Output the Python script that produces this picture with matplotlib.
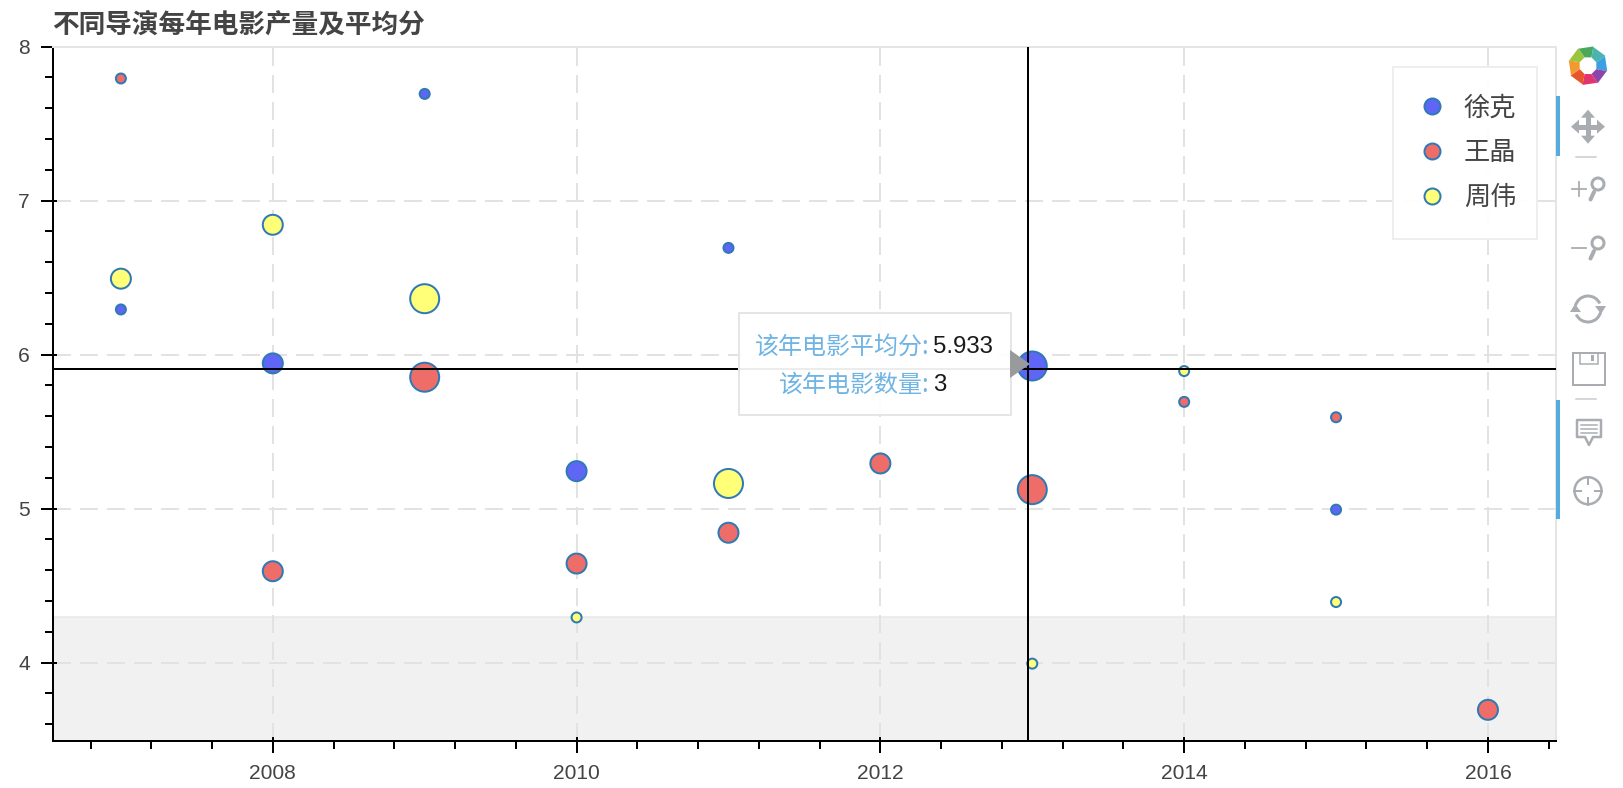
import numpy as np
import matplotlib
matplotlib.use("Agg")
from matplotlib import pyplot as plt
from matplotlib.lines import Line2D
from matplotlib.markers import TICKUP, TICKRIGHT
from matplotlib.patches import Circle, Polygon, Rectangle, Arc
from matplotlib.ticker import MultipleLocator
from matplotlib.transforms import ScaledTranslation

CJK = ["Noto Sans CJK SC", "DejaVu Sans"]
plt.rcParams["font.family"] = ["Liberation Sans", "Noto Sans CJK SC", "DejaVu Sans"]

W, H = 1624, 788

title = "不同导演每年电影产量及平均分"
names = ["徐克", "王晶", "周伟"]

xu_years = [2007, 2008, 2009, 2010, 2011, 2013, 2015]
xu_scores = [6.3, 5.95, 7.7, 5.25, 6.7, 5.933, 5.0]
xu_counts = [1, 2, 1, 2, 1, 3, 1]

wang_years = [2007, 2008, 2009, 2010, 2011, 2012, 2013, 2014, 2015, 2016]
wang_scores = [7.8, 4.6, 5.86, 4.65, 4.85, 5.3, 5.13, 5.7, 5.6, 3.7]
wang_counts = [1, 2, 3, 2, 2, 2, 3, 1, 1, 2]

zhou_years = [2007, 2008, 2009, 2010, 2011, 2013, 2014, 2015]
zhou_scores = [6.5, 6.85, 6.37, 4.3, 5.17, 4.0, 5.9, 4.4]
zhou_counts = [2, 2, 3, 1, 3, 1, 1, 1]

band_top = 4.295
cross_x = 2012.97
cross_y = 5.909

tip_labels = ["该年电影平均分:", "该年电影数量:"]
tip_values = ["5.933", "3"]

BLUE = "#5f66f6"
RED = "#ee6d68"
YELLOW = "#ffff78"
EDGE = "#2f79b5"
TEXT = "#444444"
ICON = "#a9adb1"
ACTIVE = "#55acdf"
GRID = "#e2e2e2"
BORDER = "#e5e5e5"


def px(n):
    # pixels to points, figure is saved at dpi 100
    return n * 0.72


def marker_area(counts):
    sizes = {1: 10, 2: 20, 3: 29}
    return [px(sizes[c]) ** 2 for c in counts]


fig = plt.figure(figsize=(W / 100, H / 100), dpi=100, facecolor="white")
left, right, top, bottom = 53, 1556, 46.7, 740.7
ax = fig.add_axes([left / W, 1 - bottom / H, (right - left) / W, (bottom - top) / H])

ax.set_xlim(2006.553, 2016.448)
ax.set_ylim(3.493, 8)

# Grey band at the bottom
ax.axhspan(3.493, band_top, facecolor="#f1f1f1", edgecolor="#e8e8e8", lw=px(1.5), zorder=0.5)

# Grid
ax.xaxis.set_major_locator(MultipleLocator(2))
ax.xaxis.set_minor_locator(MultipleLocator(0.4))
ax.yaxis.set_major_locator(MultipleLocator(1))
ax.yaxis.set_minor_locator(MultipleLocator(0.2))
ax.set_axisbelow(True)
ax.grid(True, which="major", color=GRID, lw=px(2), linestyle=(0, (9, 4.5)))
ax.xaxis.set_major_formatter(lambda v, pos: "%d" % v)
ax.yaxis.set_major_formatter(lambda v, pos: "%d" % v)

# Ticks
ax.tick_params(which="major", direction="out", length=px(12), width=px(2), color="black",
               labelsize=15.1, labelcolor=TEXT)
ax.tick_params(axis="x", which="major", pad=px(11))
ax.tick_params(axis="y", which="major", pad=px(11))
ax.tick_params(which="minor", direction="out", length=px(8), width=px(2), color="black")

# Major ticks also reach a little way inside the frame
x_major = [2008, 2010, 2012, 2014, 2016]
y_major = [4, 5, 6, 7, 8]
ax.plot(x_major, [3.493] * len(x_major), linestyle="none", marker=TICKUP, markersize=px(4),
        markeredgewidth=px(2), color="black", clip_on=False, zorder=2.5)
ax.plot([2006.553] * len(y_major), y_major, linestyle="none", marker=TICKRIGHT, markersize=px(4),
        markeredgewidth=px(2), color="black", clip_on=False, zorder=2.5)

ax.spines["left"].set_linewidth(px(2))
ax.spines["bottom"].set_linewidth(px(2))
ax.spines["top"].set_color(BORDER)
ax.spines["right"].set_color(BORDER)
ax.spines["top"].set_linewidth(px(2))
ax.spines["right"].set_linewidth(px(2))

# Scatter series, one pixel lower like the reference
shifted = ax.transData + ScaledTranslation(0, -1 / 100, fig.dpi_scale_trans)
ax.scatter(xu_years, xu_scores, s=marker_area(xu_counts), c=BLUE, edgecolors=EDGE, linewidths=px(2), zorder=3, transform=shifted)
ax.scatter(wang_years, wang_scores, s=marker_area(wang_counts), c=RED, edgecolors=EDGE, linewidths=px(2), zorder=3, transform=shifted)
ax.scatter(zhou_years, zhou_scores, s=marker_area(zhou_counts), c=YELLOW, edgecolors=EDGE, linewidths=px(2), zorder=3, transform=shifted)

# Crosshair
ax.axvline(cross_x, color="black", lw=px(2), zorder=4)
ax.axhline(cross_y, color="black", lw=px(2), zorder=4)

# Title
fig.text(52 / W, 1 - 25 / H, title, family=CJK, fontsize=19.2, fontweight="bold", color=TEXT, va="center", ha="left")

# Overlay in pixel coordinates for legend box, tooltip and toolbar
ov = fig.add_axes([0, 0, 1, 1], zorder=10)
ov.set_xlim(0, W)
ov.set_ylim(H, 0)
ov.axis("off")
ov.patch.set_alpha(0)

# Legend
ov.add_patch(Rectangle((1393, 66.7), 144, 172.3, facecolor="white", alpha=0.95, edgecolor="none"))
ov.add_patch(Rectangle((1393, 66.7), 144, 172.3, facecolor="none", edgecolor="#eeeeee", lw=px(2)))
handles = []
for name, col in zip(names, [BLUE, RED, YELLOW]):
    handles.append(Line2D([], [], linestyle="none", marker="o", markersize=px(16), markerfacecolor=col,
                          markeredgecolor=EDGE, markeredgewidth=px(2), label=name))
ov.legend(handles=handles, loc="upper left", bbox_to_anchor=(1421, 94.5), bbox_transform=ov.transData,
          borderaxespad=0, frameon=False, prop={"family": CJK, "size": 18.9}, labelcolor=TEXT,
          borderpad=0, labelspacing=0.68, handlelength=0.84, handletextpad=0.79)

# Tooltip
ov.add_patch(Rectangle((738.7, 312.7), 272.6, 102.5, facecolor="white", alpha=0.93, edgecolor="none"))
ov.add_patch(Rectangle((738.7, 312.7), 272.6, 102.5, facecolor="none", edgecolor="#e5e5e5", lw=px(2)))
ov.add_patch(Polygon([(1010, 350), (1010, 378), (1030, 364)], closed=True, facecolor="#999a9c", edgecolor="none"))
for lab, val, y in zip(tip_labels, tip_values, [347, 385]):
    ov.text(930, y, lab, family=CJK, fontsize=17.3, color="#6fb4e3", ha="right", va="center")
    ov.text(933, y, val, fontsize=17.3, color="#1a1a1a", ha="left", va="center")

# Toolbar logo, a ring of eight small blades
logo_colors = ["#4aa85a", "#4ab5b0", "#3aa0e0", "#8e44ad", "#e0356f", "#e8552d", "#f29a2e", "#9bc53d"]
for i, col in enumerate(logo_colors):
    a = np.deg2rad(-90 + 45 * i)
    step = np.deg2rad(22.5)
    radii = [9, 9, 20, 19.5]
    angles = [a - step, a + step, a + 0.7 * step, a - 1.3 * step]
    pts = [(1588 + r * np.cos(t), 65.7 + r * np.sin(t)) for r, t in zip(radii, angles)]
    ov.add_patch(Polygon(pts, closed=True, facecolor=col, edgecolor="none"))

# Active tool bars
ov.add_patch(Rectangle((1556, 96), 4, 60, facecolor=ACTIVE, edgecolor="none"))
ov.add_patch(Rectangle((1556, 400), 4, 119, facecolor=ACTIVE, edgecolor="none"))

# Separators
for y in [156.7, 399]:
    ov.plot([1576, 1596], [y, y], color="#c8cacc", lw=px(1.5))

# Move icon
cx, cy = 1588, 126.7
ov.plot([cx - 12, cx + 12], [cy, cy], color=ICON, lw=px(5), solid_capstyle="butt")
ov.plot([cx, cx], [cy - 12, cy + 12], color=ICON, lw=px(5), solid_capstyle="butt")
for dx, dy in [(1, 0), (-1, 0), (0, 1), (0, -1)]:
    tip = (cx + 17 * dx, cy + 17 * dy)
    a = (cx + 9 * dx + 7 * dy, cy + 9 * dy + 7 * dx)
    b = (cx + 9 * dx - 7 * dy, cy + 9 * dy - 7 * dx)
    ov.add_patch(Polygon([tip, a, b], closed=True, facecolor=ICON, edgecolor="none"))

# Zoom in and zoom out icons
for y0, plus in [(189, True), (248, False)]:
    ov.add_patch(Circle((1598, y0 - 5), 6, facecolor="none", edgecolor=ICON, lw=px(3)))
    ov.plot([1594, 1590.5], [y0 + 3, y0 + 10.5], color=ICON, lw=px(4), solid_capstyle="round")
    ov.plot([1572.5, 1586], [y0, y0], color=ICON, lw=px(1.8))
    if plus:
        ov.plot([1579.2, 1579.2], [y0 - 6.7, y0 + 6.7], color=ICON, lw=px(1.8))

# Reset icon
ov.add_patch(Arc((1588, 309), 26, 26, theta1=195, theta2=335, edgecolor=ICON, lw=px(3)))
ov.add_patch(Arc((1588, 309), 26, 26, theta1=15, theta2=155, edgecolor=ICON, lw=px(3)))
ov.add_patch(Polygon([(1595, 306), (1606, 306), (1601, 314)], closed=True, facecolor=ICON, edgecolor="none"))
ov.add_patch(Polygon([(1570, 312), (1581, 312), (1575, 304)], closed=True, facecolor=ICON, edgecolor="none"))

# Save icon
ov.add_patch(Rectangle((1573, 353), 32, 32, facecolor="none", edgecolor=ICON, lw=px(2)))
ov.add_patch(Rectangle((1580, 353), 18, 11, facecolor="none", edgecolor=ICON, lw=px(1.5)))
ov.add_patch(Rectangle((1591, 355), 3.5, 6, facecolor=ICON, edgecolor="none"))

# Hover icon
ov.add_patch(Polygon([(1577, 420), (1601, 420), (1601, 437), (1593, 437), (1589, 445), (1585, 437), (1577, 437)],
                     closed=True, facecolor="none", edgecolor=ICON, lw=px(2.5), joinstyle="round"))
for y in [425, 429, 433]:
    ov.plot([1581, 1597], [y, y], color=ICON, lw=px(1.5))

# Crosshair icon
ov.add_patch(Circle((1588, 490.7), 13.5, facecolor="none", edgecolor=ICON, lw=px(2.5)))
for dx, dy in [(1, 0), (-1, 0), (0, 1), (0, -1)]:
    ov.plot([1588 + 7 * dx, 1588 + 14 * dx], [490.7 + 7 * dy, 490.7 + 14 * dy], color=ICON, lw=px(2))

fig.savefig("out.png", dpi=100)
